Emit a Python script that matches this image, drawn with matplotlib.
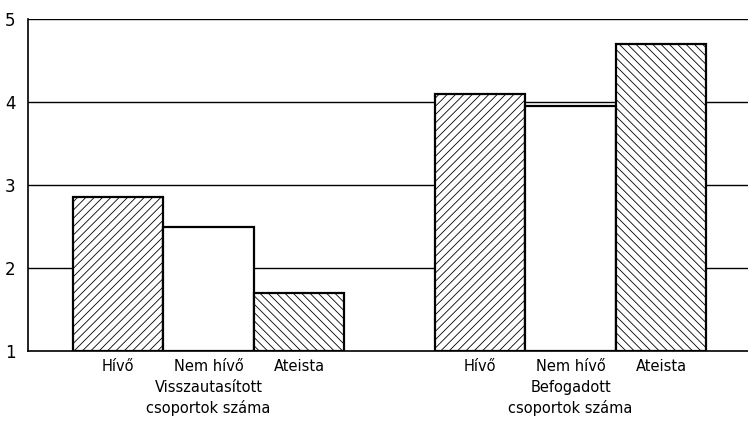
import matplotlib
matplotlib.use("Agg")
import matplotlib.pyplot as plt
import matplotlib.transforms as mtransforms

plt.rcParams['font.family'] = ['DejaVu Sans']
plt.rcParams['hatch.linewidth'] = 0.6

categories = ["Hívő", "Nem hívő", "Ateista"]
group_labels = ["Visszautasított\ncsoportok száma", "Befogadott\ncsoportok száma"]
rejected = [2.85, 2.5, 1.7]
accepted = [4.1, 3.95, 4.7]
hatches = ["////", "", "\\\\\\\\"]
yticks = [1, 2, 3, 4, 5]

fig = plt.figure(figsize=(7.48, 4.21), dpi=100)
ax = fig.add_axes([28/748, 70/421, 1 - 28/748, (351-19)/421])

positions = [[0, 1, 2], [4, 5, 6]]
for pos, vals in zip(positions, [rejected, accepted]):
    for x, v, h in zip(pos, vals, hatches):
        ax.bar(x, v - 1, bottom=1, width=1.0, facecolor="white", edgecolor="black",
               linewidth=1.6, hatch=h, zorder=3)

for y in yticks[1:]:
    ax.axhline(y, color="black", linewidth=1.0, zorder=1)

ax.set_xlim(-0.995, 6.96)
ax.set_ylim(1, 5)
ax.set_yticks(yticks)
ax.set_yticklabels([str(t) for t in yticks], fontsize=12)
ax.tick_params(axis="y", length=0, pad=9)
ax.set_xticks(positions[0] + positions[1])
ax.set_xticklabels(categories * 2, fontsize=10.5)
ax.tick_params(axis="x", length=0, pad=6)
for s in ["top", "right"]:
    ax.spines[s].set_visible(False)
ax.spines["left"].set_linewidth(1.2)
ax.spines["bottom"].set_linewidth(1.2)

trans = mtransforms.blended_transform_factory(ax.transData, fig.transFigure)
for pos, lab in zip(positions, group_labels):
    ax.text(pos[1], 1 - 398/421, lab, transform=trans, ha="center", va="center",
            fontsize=10.5, linespacing=1.35)

fig.savefig("out.png", dpi=100)
